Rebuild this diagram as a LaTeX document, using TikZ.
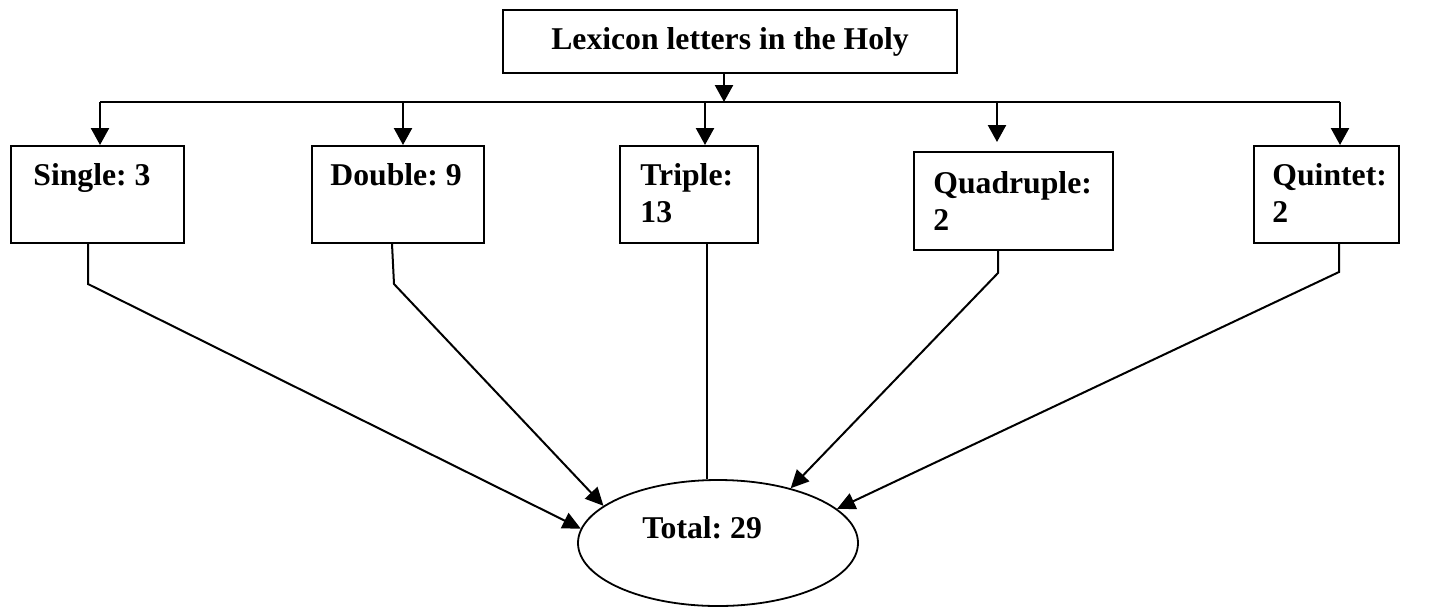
\documentclass[tikz,border=0pt]{standalone}
\usepackage{fontspec}
\setmainfont{Liberation Serif}
\usepackage{tikz}
\usetikzlibrary{shapes.geometric, arrows.meta}
\newcommand{\testo}{\fontsize{15.85}{18.5}\selectfont\bfseries\frenchspacing}

\begin{document}
\begin{tikzpicture}[x = 0.5pt, y = -0.5pt,
    scatola/.style = {draw, line width = 0.9pt, inner sep = 0pt, anchor = north west},
    etichetta/.style = {anchor = base west, inner sep = 0pt, align = left, font = \testo},
    freccia/.style = {line width = 1.2pt, -{Triangle[width = 9pt, length = 8.5pt]}},
    ramo/.style = {line width = 1pt, -{Triangle[width = 8.5pt, length = 9pt]}}]
    % Parametri
    \pgfmathsetmacro{\ylinea}{102}
    \pgfmathsetmacro{\altezza}{48.5}
    \useasboundingbox (0,0) rectangle (1435,607);
    % Scatola in alto
    \node[draw, line width = 0.9pt, minimum width = 227pt, minimum height = 31.5pt, font = \testo] (lessico) at (730,41.5) {Lexicon letters in the Holy};
    % Scatole
    \node[scatola, minimum width = 86.5pt, minimum height = \altezza pt] (single) at (10,145) {};
    \node[scatola, minimum width = 86pt, minimum height = \altezza pt] (double) at (311,145) {};
    \node[scatola, minimum width = 69pt, minimum height = \altezza pt] (triple) at (619,145) {};
    \node[scatola, minimum width = 99.5pt, minimum height = 49pt] (quad) at (913,151) {};
    \node[scatola, minimum width = 72.5pt, minimum height = \altezza pt] (quint) at (1253,145) {};
    % Testi (base = ultima riga)
    \node[etichetta] (tsingle) at (33,185) {Single: 3};
    \node[etichetta] (tdouble) at (330,185) {Double: 9};
    \node[etichetta] (ttriple) at (640,222) {Triple:\\13};
    \node[etichetta] (tquad) at (933,230) {Quadruple:\\2};
    \node[etichetta] (tquint) at (1272,222) {Quintet:\\2};
    % Totale
    \node[draw, ellipse, line width = 0.9pt, inner sep = 0pt, minimum width = 140pt, minimum height = 63pt] (tot) at (718,543) {};
    \node[etichetta] (ttot) at (642,538) {Total: 29};
    % Linea e frecce in alto
    \coordinate (bivio) at (724,\ylinea);
    \draw[freccia] (bivio |- lessico.south) -- (bivio);
    \draw[line width = 0.9pt] (100,\ylinea) -- (1340,\ylinea);
    \foreach \n/\x in {single/100, double/403, triple/705, quint/1340}
        \draw[freccia] (\x,\ylinea) -- (\x,0 |- \n.north);
    \draw[freccia, shorten >= 4.5pt] (997,\ylinea) -- (997,0 |- quad.north);
    % Rami verso il totale
    \draw[ramo] (88,0 |- single.south) -- (88,284) -- (tot.174);
    \draw[ramo] (392,0 |- double.south) -- (394,284) -- (tot.162);
    \draw[line width = 0.6pt] (707,0 |- triple.south) -- (707,0 |- tot.north);
    \draw[ramo] (998,0 |- quad.south) -- (998,273) -- (tot.37);
    \draw[ramo] (1339,0 |- quint.south) -- (1339,272) -- (tot.16);
\end{tikzpicture}
\end{document}
